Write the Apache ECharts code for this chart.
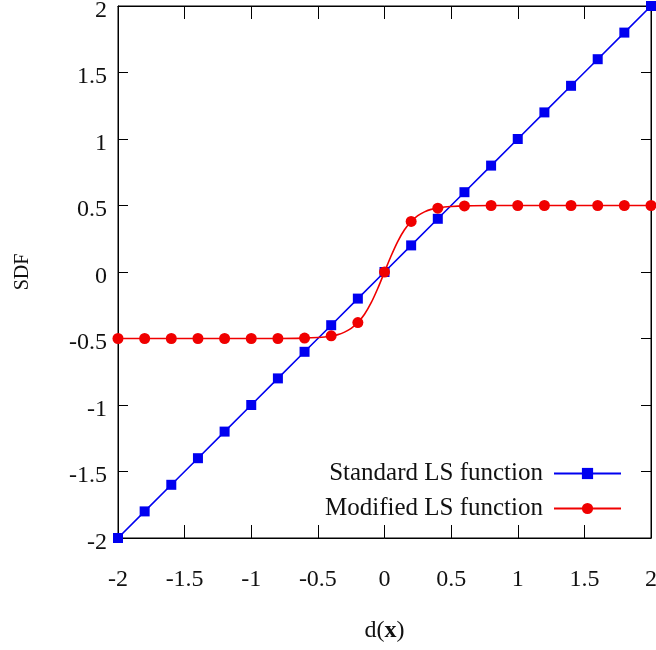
<!DOCTYPE html>
<html>
<head>
<meta charset="utf-8">
<script src="https://cdn.jsdelivr.net/npm/echarts@6/dist/echarts.min.js"></script>
<style>
html,body{margin:0;padding:0;background:#fff;}
#chart{width:656px;height:650px;}
</style>
</head>
<body>
<div id="chart"></div>
<script>
// standard LS function: markers every 0.2
var stdX = [-2,-1.8,-1.6,-1.4,-1.2,-1,-0.8,-0.6,-0.4,-0.2,0,0.2,0.4,0.6,0.8,1,1.2,1.4,1.6,1.8,2];
var stdY = [-2,-1.8,-1.6,-1.4,-1.2,-1,-0.8,-0.6,-0.4,-0.2,0,0.2,0.4,0.6,0.8,1,1.2,1.4,1.6,1.8,2];
// modified LS function: markers
var modX = [-2,-1.8,-1.6,-1.4,-1.2,-1,-0.8,-0.6,-0.4,-0.2,0,0.2,0.4,0.6,0.8,1,1.2,1.4,1.6,1.8,2];
var modY = [-0.5,-0.5,-0.5,-0.5,-0.5,-0.5,-0.5,-0.497,-0.48,-0.38,0,0.38,0.48,0.497,0.5,0.5,0.5,0.5,0.5,0.5,0.5];
// extra points
var midX = [-0.5,-0.45,-0.35,-0.3,-0.25,-0.15,-0.1,-0.05,0.05,0.1,0.15,0.25,0.3,0.35,0.45,0.5];
var midY = [-0.493,-0.489,-0.471,-0.452,-0.424,-0.318,-0.231,-0.122,0.122,0.231,0.318,0.424,0.452,0.471,0.489,0.493];

var stdData = stdX.map(function(x,i){ return [x, stdY[i]]; });
var modData = modX.map(function(x,i){ return {value:[x, modY[i]]}; })
  .concat(midX.map(function(x,i){ return {value:[x, midY[i]], symbolSize:0}; }))
  .sort(function(a,b){ return a.value[0]-b.value[0]; });

var font = 'Liberation Serif';
var fmt = function(v){ return String(Math.round(v*10)/10); };
var legendText = {fontFamily:font, fontSize:25, color:'#111', padding:[0,6,0,0]};

var option = {
  backgroundColor:'#fff',
  animation:false,
  grid:{left:118, right:5, top:6, bottom:112, outerBoundsMode:'none', show:true, borderColor:'#000', borderWidth:1},
  legend:[
    {data:['Standard LS function'], right:29, top:456, align:'right', itemWidth:67, itemHeight:14,
     textStyle:legendText, selectedMode:false},
    {data:['Modified LS function'], right:29, top:491, align:'right', itemWidth:67, itemHeight:14,
     textStyle:legendText, selectedMode:false}
  ],
  xAxis:[
    {type:'value', min:-2, max:2, interval:0.5,
     name:'{n|d(}{b|x}{n|)}', nameLocation:'middle', nameGap:81,
     nameTextStyle:{rich:{n:{fontFamily:font, fontSize:24, color:'#111'}, b:{fontFamily:font, fontSize:24, fontWeight:'bold', color:'#111'}}},
     axisLine:{onZero:false, lineStyle:{color:'#000'}},
     axisTick:{inside:true, length:13, lineStyle:{color:'#000'}},
     axisLabel:{margin:30, fontFamily:font, fontSize:24, color:'#111', formatter:fmt},
     splitLine:{show:false}},
    {type:'value', position:'top', min:-2, max:2, interval:0.5,
     axisLine:{onZero:false, lineStyle:{color:'#000'}},
     axisTick:{inside:true, length:13, lineStyle:{color:'#000'}},
     axisLabel:{show:false}, splitLine:{show:false}}
  ],
  yAxis:[
    {type:'value', min:-2, max:2, interval:0.5,
     name:'SDF', nameLocation:'middle', nameGap:85,
     nameTextStyle:{fontFamily:font, fontSize:20, color:'#111'},
     axisLine:{onZero:false, lineStyle:{color:'#000'}},
     axisTick:{inside:true, length:10, lineStyle:{color:'#000'}},
     axisLabel:{margin:11, color:'#111',
       formatter:function(v){ return '{v|' + fmt(v) + '}'; },
       rich:{v:{fontFamily:font, fontSize:24, color:'#111', padding:[9,0,0,0]}}},
     splitLine:{show:false}},
    {type:'value', position:'right', min:-2, max:2, interval:0.5,
     axisLine:{onZero:false, lineStyle:{color:'#000'}},
     axisTick:{inside:true, length:10, lineStyle:{color:'#000'}},
     axisLabel:{show:false}, splitLine:{show:false}}
  ],
  series:[
    {name:'Standard LS function', type:'line', data:stdData,
     symbol:'rect', symbolSize:10, color:'#0000f0',
     lineStyle:{color:'#0000f0', width:1.6}, itemStyle:{color:'#0000f0'}},
    {name:'Modified LS function', type:'line', data:modData,
     symbol:'circle', symbolSize:11, smooth:0.3, color:'#f00000',
     lineStyle:{color:'#f00000', width:1.6}, itemStyle:{color:'#f00000'}}
  ]
};

var chart = echarts.init(document.getElementById('chart'));
chart.setOption(option);
</script>
</body>
</html>
